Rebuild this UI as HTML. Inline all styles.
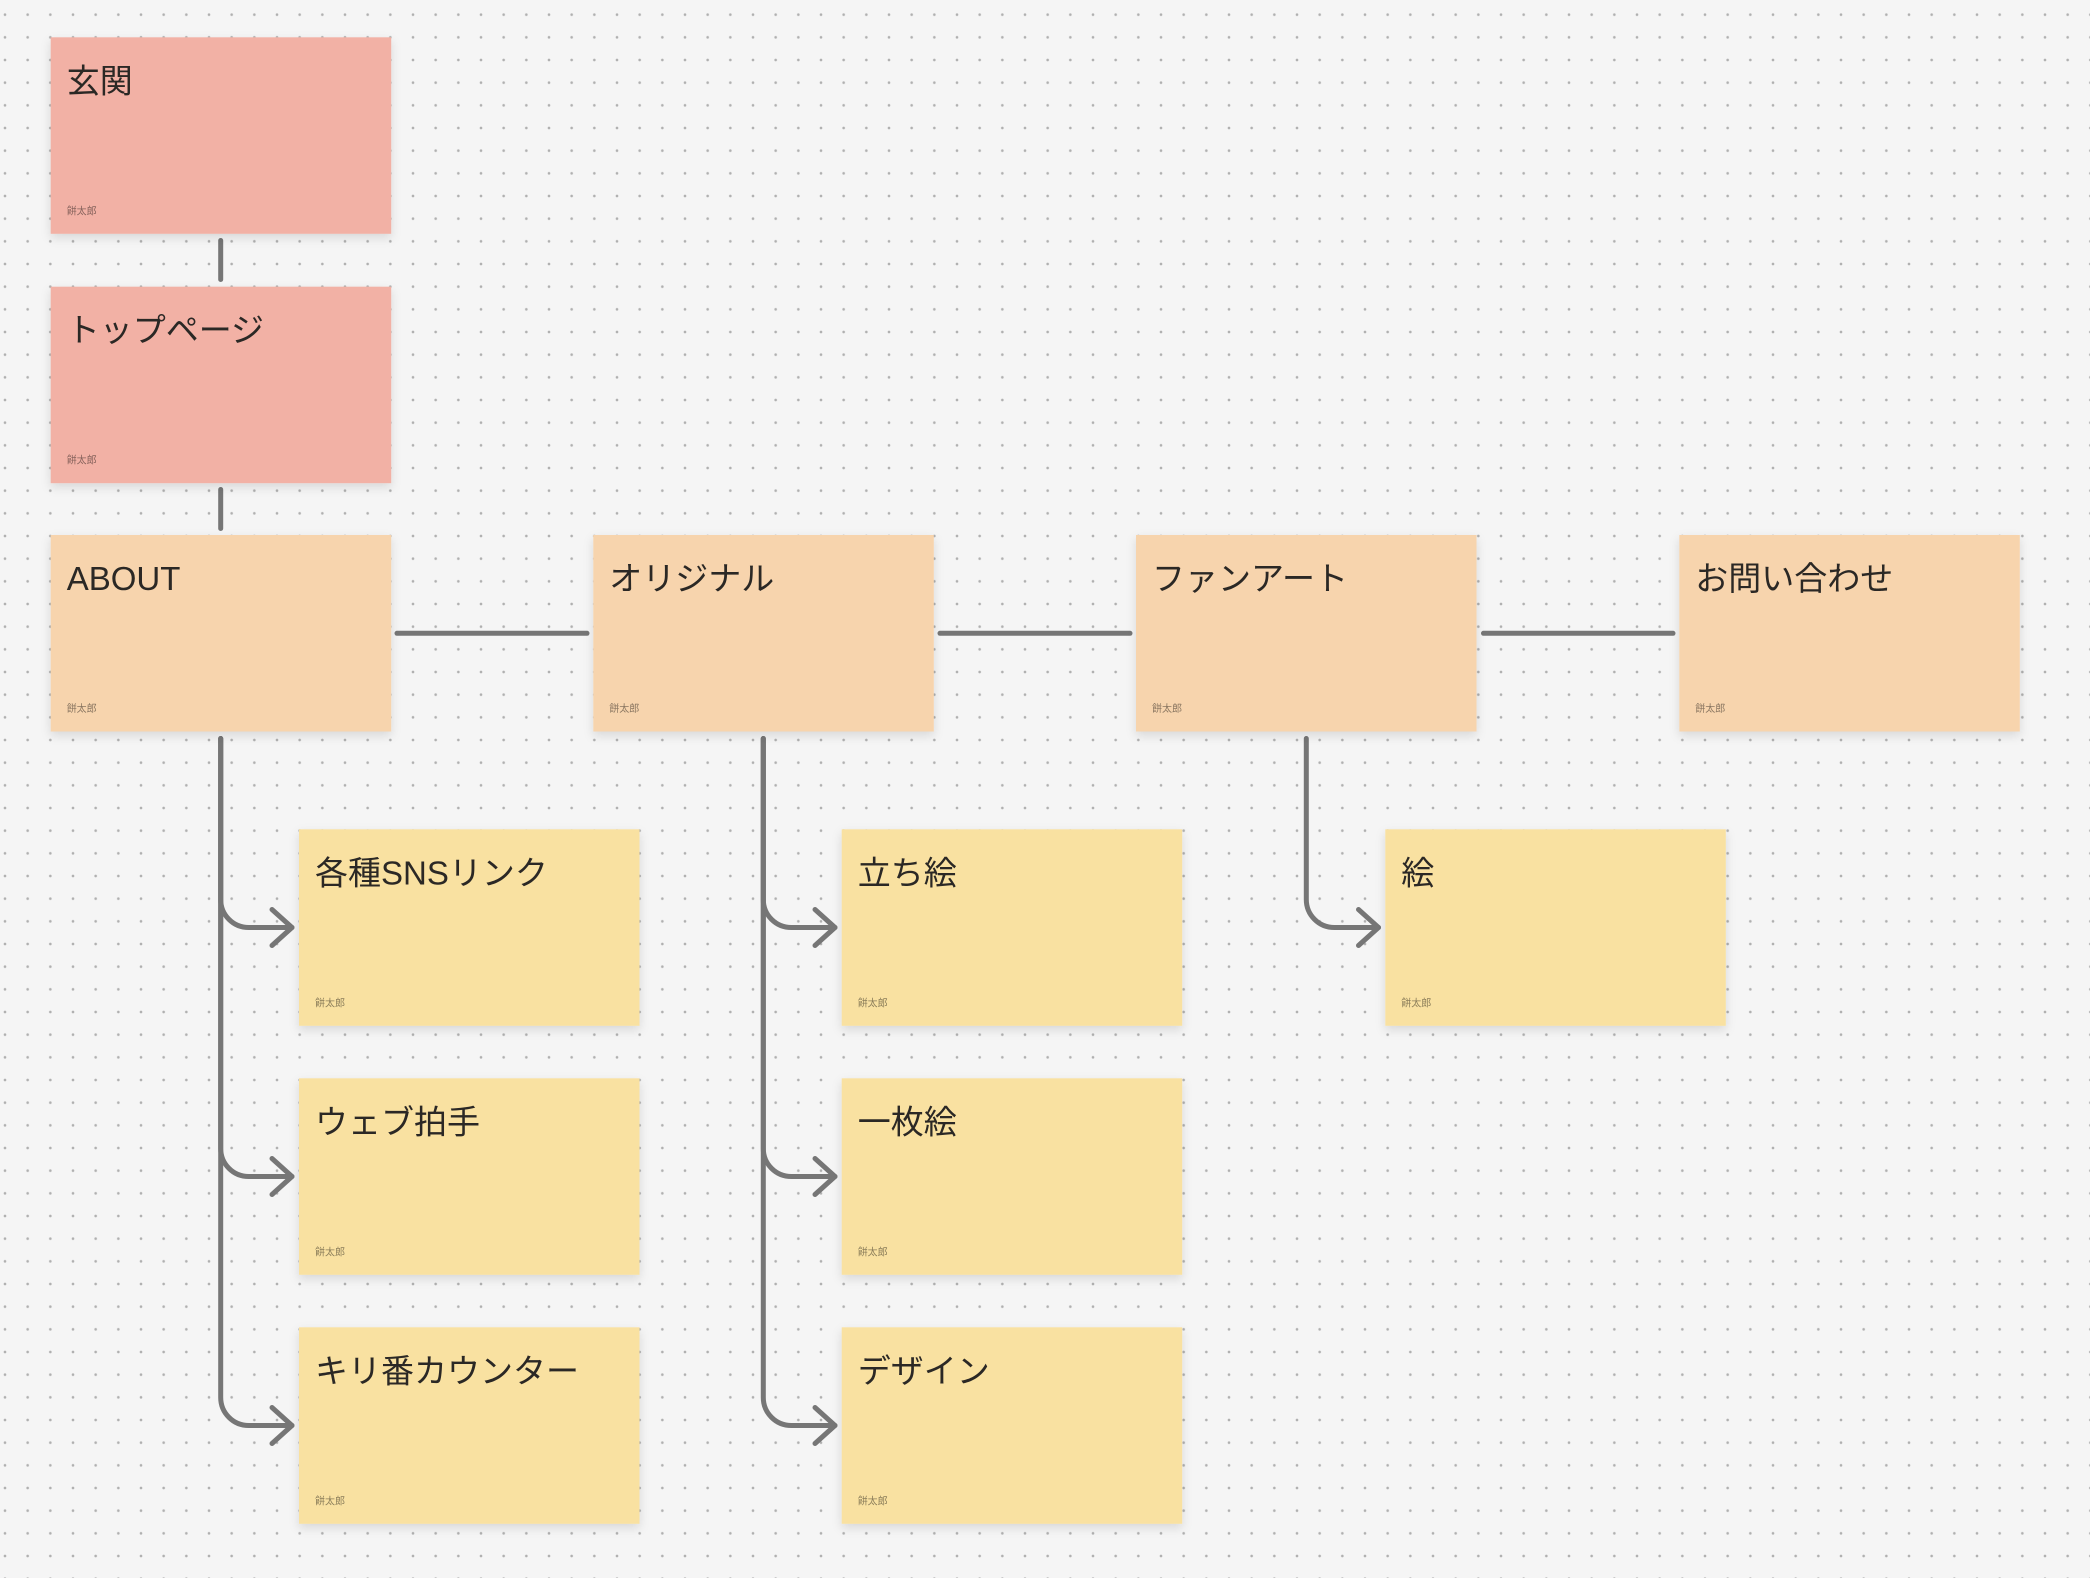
<!DOCTYPE html>
<html>
<head>
<meta charset="utf-8">
<style>
  html,body{margin:0;padding:0;background:#f5f5f5;}
  body{width:2090px;height:1578px;overflow:hidden;}
  svg{display:block;}
  .t{font-family:"Liberation Sans","Noto Sans CJK JP",sans-serif;font-size:33px;fill:#2b2825;}
  .a{font-family:"Liberation Sans","Noto Sans CJK JP",sans-serif;font-size:10px;fill:rgba(0,0,0,0.45);}
  .c{fill:none;stroke:#767676;stroke-width:5;stroke-linecap:round;stroke-linejoin:round;}
</style>
</head>
<body>
<svg width="2090" height="1578" viewBox="0 0 2090 1578" xmlns="http://www.w3.org/2000/svg">
  <defs>
    <pattern id="dots" x="-6.333" y="3.333" width="22.6667" height="22.6667" patternUnits="userSpaceOnUse">
      <circle cx="11.333" cy="11.333" r="1.3" fill="#b0b0b0"/>
    </pattern>
    <filter id="sh" x="-10%" y="-10%" width="120%" height="130%">
      <feDropShadow dx="0" dy="4" stdDeviation="5" flood-color="#000" flood-opacity="0.12"/>
    </filter>
  </defs>
  <rect x="0" y="0" width="2090" height="1578" fill="#f5f5f5"/>
  <rect x="0" y="0" width="2090" height="1578" fill="url(#dots)"/>

  <!-- connectors -->
  <path class="c" d="M220.7,240.5 V279.5"/>
  <path class="c" d="M220.7,489.5 V528.5"/>
  <path class="c" d="M397,633.3 H587"/>
  <path class="c" d="M940,633.3 H1130"/>
  <path class="c" d="M1483.5,633.3 H1673"/>

  <!-- ABOUT arrows -->
  <path class="c" d="M220.7,738.5 V899.5 A28,28 0 0 0 248.7,927.5 H292"/>
  <path class="c" d="M272,909.5 L292,927.5 L272,945.5"/>
  <path class="c" d="M220.7,738.5 V1148.5 A28,28 0 0 0 248.7,1176.5 H292"/>
  <path class="c" d="M272,1158.5 L292,1176.5 L272,1194.5"/>
  <path class="c" d="M220.7,738.5 V1397.5 A28,28 0 0 0 248.7,1425.5 H292"/>
  <path class="c" d="M272,1407.5 L292,1425.5 L272,1443.5"/>

  <!-- オリジナル arrows -->
  <path class="c" d="M763.3,738.5 V899.5 A28,28 0 0 0 791.3,927.5 H835"/>
  <path class="c" d="M815,909.5 L835,927.5 L815,945.5"/>
  <path class="c" d="M763.3,738.5 V1148.5 A28,28 0 0 0 791.3,1176.5 H835"/>
  <path class="c" d="M815,1158.5 L835,1176.5 L815,1194.5"/>
  <path class="c" d="M763.3,738.5 V1397.5 A28,28 0 0 0 791.3,1425.5 H835"/>
  <path class="c" d="M815,1407.5 L835,1425.5 L815,1443.5"/>

  <!-- ファンアート arrow -->
  <path class="c" d="M1306.3,738.5 V899.5 A28,28 0 0 0 1334.3,927.5 H1378.5"/>
  <path class="c" d="M1358.5,909.5 L1378.5,927.5 L1358.5,945.5"/>

  <!-- boxes -->
  <g filter="url(#sh)">
    <rect x="50.7" y="37.3" width="340.5" height="196.5" fill="#f2b1a5"/>
    <rect x="50.7" y="286.7" width="340.5" height="196.5" fill="#f2b1a5"/>
    <rect x="50.7" y="535" width="340.5" height="196.5" fill="#f7d4ad"/>
    <rect x="593.3" y="535" width="340.5" height="196.5" fill="#f7d4ad"/>
    <rect x="1136" y="535" width="340.5" height="196.5" fill="#f7d4ad"/>
    <rect x="1679.3" y="535" width="340.5" height="196.5" fill="#f7d4ad"/>
    <rect x="299" y="829.3" width="340.5" height="196.5" fill="#f9e1a1"/>
    <rect x="841.7" y="829.3" width="340.5" height="196.5" fill="#f9e1a1"/>
    <rect x="1385.3" y="829.3" width="340.5" height="196.5" fill="#f9e1a1"/>
    <rect x="299" y="1078.3" width="340.5" height="196.5" fill="#f9e1a1"/>
    <rect x="841.7" y="1078.3" width="340.5" height="196.5" fill="#f9e1a1"/>
    <rect x="299" y="1327.3" width="340.5" height="196.5" fill="#f9e1a1"/>
    <rect x="841.7" y="1327.3" width="340.5" height="196.5" fill="#f9e1a1"/>
  </g>

  <!-- titles -->
  <text class="t" x="66.7" y="92.3">玄関</text>
  <text class="t" x="66.7" y="341.7">トップページ</text>
  <text class="t" x="66.7" y="590">ABOUT</text>
  <text class="t" x="609.3" y="590">オリジナル</text>
  <text class="t" x="1152" y="590">ファンアート</text>
  <text class="t" x="1695.3" y="590">お問い合わせ</text>
  <text class="t" x="315" y="884.3">各種SNSリンク</text>
  <text class="t" x="857.7" y="884.3">立ち絵</text>
  <text class="t" x="1401.3" y="884.3">絵</text>
  <text class="t" x="315" y="1133.3">ウェブ拍手</text>
  <text class="t" x="857.7" y="1133.3">一枚絵</text>
  <text class="t" x="315" y="1382.3">キリ番カウンター</text>
  <text class="t" x="857.7" y="1382.3">デザイン</text>

  <!-- authors -->
  <text class="a" x="66.7" y="214.3">餅太郎</text>
  <text class="a" x="66.7" y="463.7">餅太郎</text>
  <text class="a" x="66.7" y="712">餅太郎</text>
  <text class="a" x="609.3" y="712">餅太郎</text>
  <text class="a" x="1152" y="712">餅太郎</text>
  <text class="a" x="1695.3" y="712">餅太郎</text>
  <text class="a" x="315" y="1006.3">餅太郎</text>
  <text class="a" x="857.7" y="1006.3">餅太郎</text>
  <text class="a" x="1401.3" y="1006.3">餅太郎</text>
  <text class="a" x="315" y="1255.3">餅太郎</text>
  <text class="a" x="857.7" y="1255.3">餅太郎</text>
  <text class="a" x="315" y="1504.3">餅太郎</text>
  <text class="a" x="857.7" y="1504.3">餅太郎</text>
</svg>
</body>
</html>
